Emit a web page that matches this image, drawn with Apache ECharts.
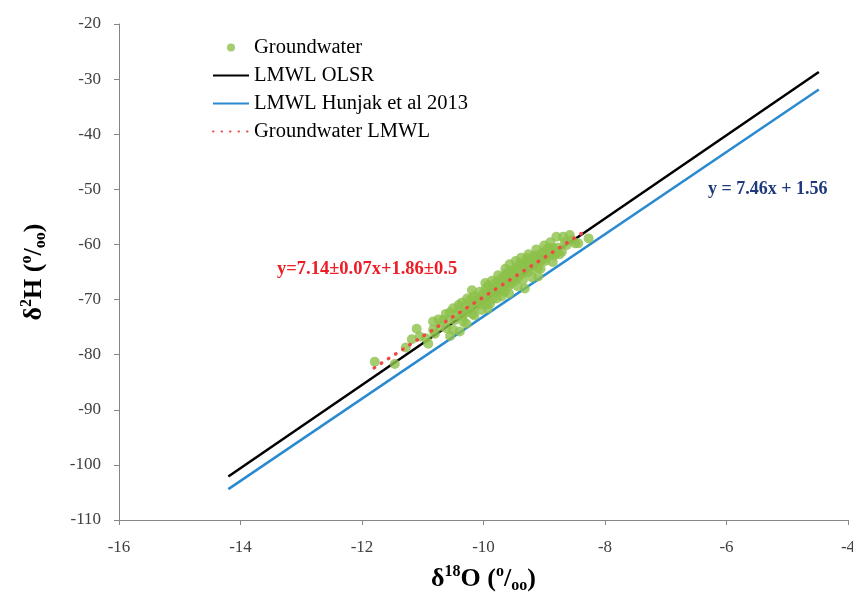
<!DOCTYPE html>
<html><head><meta charset="utf-8">
<script src="https://cdn.jsdelivr.net/npm/echarts@6/dist/echarts.min.js"></script>
<style>html,body{margin:0;padding:0;background:#fff}#c{width:853px;height:592px}</style>
</head><body><div id="c"></div>
<script>
// Groundwater samples: [δ18O, δ2H]
const groundwater = [
 [-11.79,-81.3],[-11.46,-81.7],[-11.28,-78.7],[-11.18,-77.2],[-11.10,-75.3],[-11.05,-76.7],
 [-10.95,-77.0],[-10.91,-78.0],[-10.83,-74.0],[-10.74,-73.6],[-10.66,-73.7],[-10.58,-73.7],
 [-10.72,-74.9],[-10.83,-75.5],[-10.61,-75.2],[-10.47,-73.7],[-10.50,-75.5],[-10.33,-74.0],
 [-10.39,-75.8],[-10.50,-71.6],[-10.41,-71.0],[-10.30,-72.5],[-10.22,-70.1],[-10.19,-68.3],
 [-10.14,-71.3],[-10.09,-70.1],[-10.03,-71.9],[-9.98,-69.5],[-9.92,-67.4],[-9.89,-70.7],
 [-9.84,-68.6],[-9.78,-69.8],[-9.73,-67.7],[-9.67,-66.5],[-9.62,-65.2],[-9.65,-68.6],
 [-9.56,-67.1],[-9.51,-64.6],[-9.45,-66.1],[-9.40,-63.4],[-9.34,-65.2],[-9.32,-68.0],
 [-9.29,-62.5],[-9.23,-64.0],[-9.18,-62.2],[-9.12,-63.4],[-9.10,-65.8],[-9.04,-61.6],
 [-8.99,-62.5],[-8.96,-61.0],[-8.91,-61.9],[-8.85,-60.7],[-8.80,-61.6],[-8.80,-58.6],
 [-8.69,-58.6],[-8.58,-58.3],[-8.49,-59.8],[-8.44,-59.8],[-8.27,-58.9],[-8.71,-61.3],
 [-8.63,-60.1],
 [-10.45,-72.8],[-10.40,-72.0],[-10.35,-73.0],[-10.30,-71.2],[-10.25,-72.0],[-10.20,-71.0],
 [-10.18,-72.6],[-10.12,-70.5],[-10.10,-69.6],[-10.05,-70.8],[-10.00,-68.9],[-10.00,-70.2],
 [-9.96,-68.0],[-9.95,-70.9],[-9.90,-69.1],[-9.88,-67.9],[-9.85,-69.9],[-9.82,-68.2],
 [-9.80,-67.0],[-9.78,-68.8],[-9.75,-66.5],[-9.72,-68.3],[-9.70,-67.2],[-9.68,-65.9],
 [-9.66,-67.8],[-9.62,-66.6],[-9.60,-65.5],[-9.58,-67.5],[-9.55,-66.0],[-9.53,-64.8],
 [-9.50,-66.7],[-9.48,-65.4],[-9.45,-64.2],[-9.42,-65.8],[-9.40,-64.6],[-9.37,-63.8],
 [-9.35,-66.4],[-9.32,-64.0],[-9.30,-63.2],[-9.27,-65.0],[-9.25,-63.6],[-9.22,-62.8],
 [-9.20,-64.5],[-9.16,-63.0],[-9.14,-62.0],[-9.10,-64.2],[-9.08,-62.6],[-9.05,-63.0],
 [-9.02,-61.5],[-8.98,-63.0],[-8.95,-62.0],[-8.93,-60.6],[-8.88,-61.4],[-8.84,-62.0],
 [-8.78,-60.6],[-8.75,-61.8],
 [-10.62,-72.6],[-10.55,-72.3],[-10.36,-70.6],[-10.27,-69.8],[-10.16,-69.4],[-10.06,-68.6],
 [-9.97,-67.0],[-9.86,-66.6],[-9.76,-65.6],[-9.64,-64.4],[-9.57,-63.6],[-9.47,-63.0],
 [-9.38,-62.4],[-9.26,-61.8],[-9.13,-60.9],[-9.00,-60.2],[-8.90,-59.6],[-8.86,-63.2],
 [-9.20,-66.0],[-9.44,-67.6],[-9.70,-69.4],[-9.93,-71.6],[-10.15,-72.9],[-10.28,-74.4],
 [-8.55,-59.2],[-8.66,-59.6],[-9.06,-64.4],[-9.58,-68.9],[-10.55,-76.6],[-10.80,-76.2]
];
// Regression line end points
const lmwlOlsr = [[-14.2,-102.1],[-4.48,-28.7]];
const lmwlHunjak = [[-14.2,-104.4],[-4.48,-31.9]];
const gwLmwl = [[-11.8,-82.4],[-8.33,-57.6]];
const seriesNames = ['Groundwater','LMWL OLSR','LMWL Hunjak et al 2013','Groundwater LMWL'];

const serif = 'Liberation Serif';
const titleRich = {
  a:{fontFamily:serif,fontSize:26,fontWeight:'bold',color:'#000',lineHeight:30},
  sup:{fontFamily:serif,fontSize:16,fontWeight:'bold',color:'#000',verticalAlign:'top',lineHeight:30},
  sub:{fontFamily:serif,fontSize:16,fontWeight:'bold',color:'#000',verticalAlign:'bottom',lineHeight:24}
};
const chart = echarts.init(document.getElementById('c'));
chart.setOption({
  animation:false,
  backgroundColor:'#fff',
  grid:{left:119,right:5,top:24,bottom:72,outerBoundsMode:'none',containLabel:false},
  legend:{
    orient:'vertical', left:207, top:32, itemWidth:36, itemHeight:8, itemGap:7,
    textStyle:{fontFamily:serif,fontSize:20.5,color:'#000',lineHeight:20},
    data:[
      {name:seriesNames[0],icon:'circle'},
      {name:seriesNames[1],itemStyle:{opacity:0}},
      {name:seriesNames[2],itemStyle:{opacity:0}},
      {name:seriesNames[3],itemStyle:{opacity:0}}
    ]
  },
  xAxis:{
    type:'value',min:-16,max:-4,interval:2,
    name:'{a|δ}{sup|18}{a|O (}{sup|o}{a|/}{sub|oo}{a|)}',
    nameLocation:'middle',nameGap:44,
    nameTextStyle:{rich:titleRich},
    axisLine:{onZero:false,lineStyle:{color:'#868686',width:1}},
    axisTick:{show:true,length:5,lineStyle:{color:'#868686'}},
    axisLabel:{fontFamily:serif,fontSize:17,color:'#404040',margin:19},
    splitLine:{show:false}
  },
  yAxis:{
    type:'value',min:-110,max:-20,interval:10,
    name:'{a|δ}{sup|2}{a|H (}{sup|o}{a|/}{sub|oo}{a|)}',
    nameLocation:'middle',nameGap:70,nameRotate:90,
    nameTextStyle:{rich:titleRich},
    axisLine:{show:true,onZero:false,lineStyle:{color:'#868686',width:1}},
    axisTick:{show:true,length:5,lineStyle:{color:'#868686'}},
    axisLabel:{fontFamily:serif,fontSize:17,color:'#404040',margin:18},
    splitLine:{show:false}
  },
  series:[
    {name:seriesNames[0],type:'scatter',data:groundwater,symbolSize:10,z:3,
     itemStyle:{color:'#8cc04a'}},
    {name:seriesNames[1],type:'line',data:lmwlOlsr,symbol:'none',z:2,
     lineStyle:{color:'#000',width:2.5},itemStyle:{color:'#000'}},
    {name:seriesNames[2],type:'line',data:lmwlHunjak,symbol:'none',z:2,
     lineStyle:{color:'#2a8ad0',width:2.5},itemStyle:{color:'#2a8ad0'}},
    {name:seriesNames[3],type:'line',data:gwLmwl,symbol:'none',z:4,
     lineStyle:{color:'#f04848',width:3.5,type:[0.5,8],cap:'round'},itemStyle:{color:'#f04848'}}
  ],
  graphic:[
    {type:'text',left:277,top:260,style:{text:'y=7.14±0.07x+1.86±0.5',fontFamily:serif,fontSize:18.5,fontWeight:'bold',fill:'#ee1c24'}},
    {type:'text',left:708,top:180,style:{text:'y = 7.46x + 1.56',fontFamily:serif,fontSize:18,fontWeight:'bold',fill:'#1f3a7a'}}
  ]
});
</script></body></html>
